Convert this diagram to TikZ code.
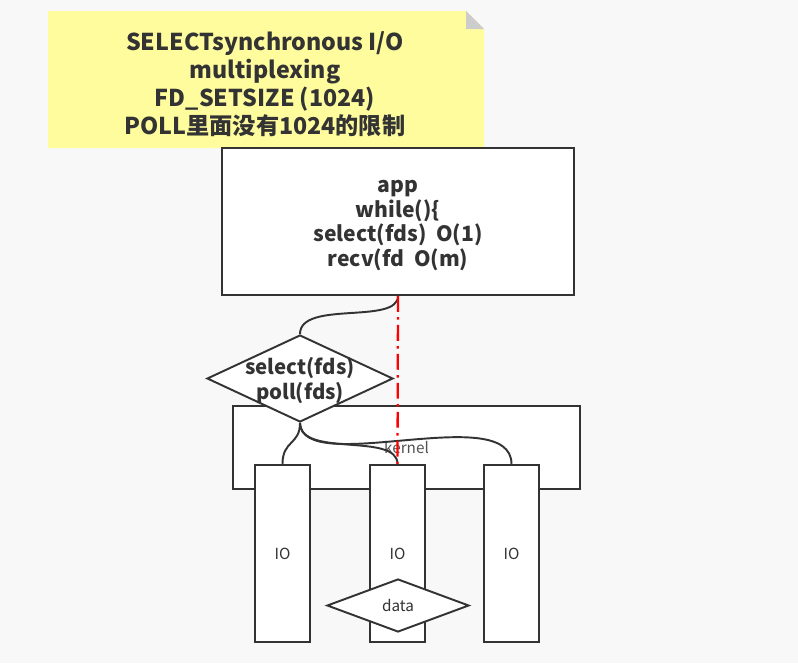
\documentclass[tikz,border=0pt]{standalone}
\usepackage{fontspec}
\setmainfont{Noto Sans CJK SC}
\usetikzlibrary{shapes.geometric}
\definecolor{ink}{HTML}{333333}
\definecolor{notey}{HTML}{FFFC9E}
\definecolor{pagebg}{HTML}{F8F8F8}
\begin{document}
\begin{tikzpicture}[x=0.02cm,y=-0.02cm,
  every node/.style={text=ink,align=center},
  box/.style={rectangle,draw=ink,line width=1.1pt,fill=white,inner sep=0pt},
  dia/.style={diamond,draw=ink,line width=1.1pt,fill=white,inner sep=0pt},
  link/.style={draw=ink,line width=1.1pt},
  bigtxt/.style={font=\bfseries\fontsize{13.2pt}{16pt}\selectfont},
  midtxt/.style={font=\bfseries\fontsize{12pt}{14pt}\selectfont},
  seltxtstyle/.style={font=\bfseries\fontsize{11.6pt}{14.2pt}\selectfont},
  smalltxt/.style={font=\fontsize{8.7pt}{10pt}\selectfont}]
  % Fondo
  \fill[pagebg] (0,0) rectangle (798,663);
  \useasboundingbox (0,0) rectangle (798,663);

  % Nota
  \fill[notey] (48,11) -- (466,11) -- (484,29) -- (484,148) -- (48,148) -- cycle;
  \fill[black!20] (466,11) -- (484,29) -- (466,29) -- cycle;
  \node[bigtxt] (title) at (265,84) {SELECTsynchronous I/O\\multiplexing\\FD\_SETSIZE (1024)\\POLL里面没有1024的限制};

  % Cajas
  \node[box, minimum width=7.04cm, minimum height=2.94cm] (app) at (398,221.5) {};
  \node[midtxt] (apptxt) at (398,225.5) {app\\while()\{\\select(fds)\ \ O(1)\\recv(fd\ \ O(m)};
  \node[box, minimum width=6.94cm, minimum height=1.66cm, smalltxt, text=ink!85] (kernel) at (406.5,447.5) {kernel};
  \node[box, minimum width=1.1cm, minimum height=3.54cm, smalltxt] (io1) at (282.5,553.5) {IO};
  \node[box, minimum width=1.1cm, minimum height=3.54cm, smalltxt] (io2) at (397.5,553.5) {IO};
  \node[box, minimum width=1.1cm, minimum height=3.54cm, smalltxt] (io3) at (511.5,553.5) {IO};

  % Rombos
  \node[dia, minimum width=3.72cm, minimum height=1.74cm] (sel) at (300,378.5) {};
  \node[seltxtstyle] (seltxt) at (300,380.5) {select(fds)\\poll(fds)};
  \node[dia, minimum width=2.84cm, minimum height=1.06cm, smalltxt] (data) at (398,605.5) {data};

  % Curvas
  \draw[link] (app.south) .. controls (398,325) and (300,300) .. (sel.north);
  \draw[link] (sel.south) .. controls (300,445) and (282.5,440) .. (io1.north);
  \draw[link] (sel.south) .. controls (300,458) and (397.5,432) .. (io2.north);
  \draw[link] (sel.south) .. controls (302,478) and (511.5,400) .. (io3.north);

  % Linea roja
  \draw[red, line width=1.3pt, dash pattern=on 9pt off 3pt on 1.5pt off 3pt] (app.south) -- (io2.north);
\end{tikzpicture}
\end{document}
